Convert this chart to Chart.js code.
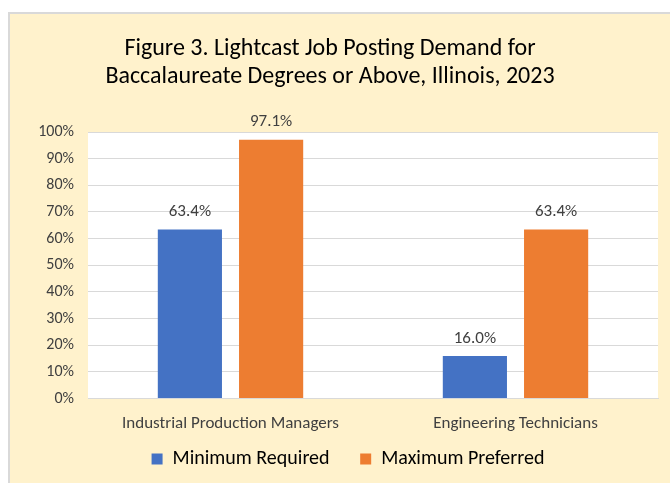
<!DOCTYPE html>
<html>
<head>
<meta charset="utf-8">
<script src="https://cdn.jsdelivr.net/npm/chart.js@4.4.1/dist/chart.umd.min.js"></script>
<style>
  body { margin: 0; background: #fff; overflow: hidden; }
  #box {
    position: absolute; left: 8px; top: 12px; width: 668px; height: 475px;
    background: #FFF2CC; border: 2px solid #D9D9D9; box-sizing: border-box;
  }
  #wrap { position: absolute; left: 0; top: 0; width: 664px; height: 471px; }
  #title {
    position: absolute; left: 0; top: 19px; width: 640px;
    text-align: center; font: 24px/28px Carlito, Lato, "Open Sans", sans-serif; color: #000;
  }
</style>
</head>
<body>
<div id="box">
  <div id="wrap"><canvas id="chart"></canvas></div>
  <div id="title">Figure 3. Lightcast Job Posting Demand for<br>Baccalaureate Degrees or Above, Illinois, 2023</div>
</div>
<script>
const categories = ['Industrial Production Managers', 'Engineering Technicians'];
const minimumRequired = [63.4, 16.0];
const maximumPreferred = [97.1, 63.4];
const yTicks = [0, 10, 20, 30, 40, 50, 60, 70, 80, 90, 100];

const fontFamily = 'Carlito, Lato, "Open Sans", sans-serif';

// white plot area + value labels on top of bars
const plotBg = {
    id: 'plotBg',
    beforeDraw(chart) {
        const a = chart.chartArea;
        const ctx = chart.ctx;
        ctx.save();
        ctx.fillStyle = '#ffffff';
        ctx.fillRect(a.left, a.top, a.right - a.left, a.bottom - a.top);
        ctx.restore();
    }
};

const valueLabels = {
    id: 'valueLabels',
    afterDatasetsDraw(chart) {
        const ctx = chart.ctx;
        ctx.save();
        ctx.font = '17px ' + fontFamily;
        ctx.fillStyle = '#404040';
        ctx.textAlign = 'center';
        ctx.textBaseline = 'bottom';
        chart.data.datasets.forEach((ds, i) => {
            chart.getDatasetMeta(i).data.forEach((bar, j) => {
                ctx.fillText(ds.data[j].toFixed(1) + '%', bar.x, bar.y - 9);
            });
        });
        ctx.restore();
    }
};

new Chart(document.getElementById('chart'), {
    type: 'bar',
    data: {
        labels: categories,
        datasets: [
            { label: 'Minimum Required', data: minimumRequired, backgroundColor: '#4472C4' },
            { label: 'Maximum Preferred', data: maximumPreferred, backgroundColor: '#ED7D31' }
        ]
    },
    options: {
        responsive: true,
        maintainAspectRatio: false,
        animation: false,
        categoryPercentage: 0.57,
        barPercentage: 0.79,
        layout: { padding: { left: 28, right: 16, top: 118, bottom: 6 } },
        plugins: {
            title: { display: false },
            legend: {
                position: 'bottom',
                labels: {
                    color: '#000000',
                    font: { family: fontFamily, size: 20 },
                    boxWidth: 11,
                    boxHeight: 11,
                    padding: 8,
                    generateLabels(chart) {
                        const items = Chart.defaults.plugins.legend.labels.generateLabels(chart);
                        // extra gap after the first entry, as in the original
                        items[0].text += '     ';
                        return items;
                    }
                }
            },
            tooltip: { enabled: false }
        },
        scales: {
            x: {
                grid: { display: false },
                border: { color: '#D9D9D9' },
                ticks: { color: '#404040', font: { family: fontFamily, size: 17 }, padding: 7 }
            },
            y: {
                min: 0,
                max: 100,
                afterBuildTicks(scale) { scale.ticks = yTicks.map(v => ({ value: v })); },
                afterFit(scale) { scale.width = 50; },
                grid: { color: '#D9D9D9', drawTicks: false },
                border: { display: false },
                ticks: {
                    color: '#404040',
                    font: { family: fontFamily, size: 16 },
                    padding: 14,
                    callback: v => v + '%'
                }
            }
        }
    },
    plugins: [plotBg, valueLabels]
});
</script>
</body>
</html>
